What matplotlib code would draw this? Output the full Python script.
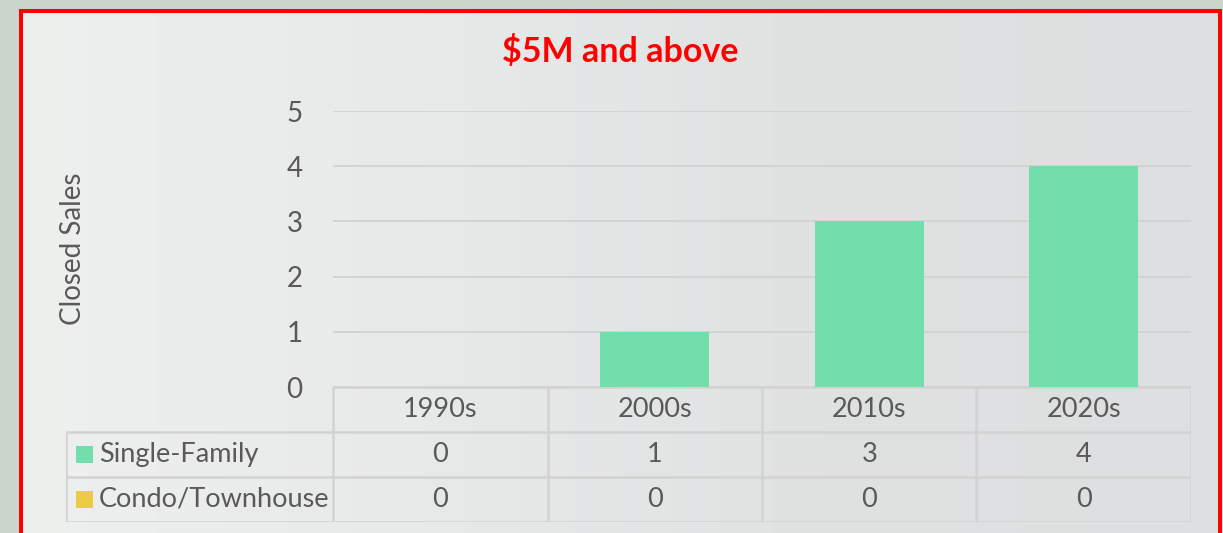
import numpy as np
import matplotlib
matplotlib.use('Agg')
import matplotlib.pyplot as plt
from matplotlib.colors import LinearSegmentedColormap
from matplotlib.patches import Rectangle

plt.rcParams['font.family'] = ['Lato', 'DejaVu Sans']

# ---- data ----
decades = ['1990s', '2000s', '2010s', '2020s']
single_family = [0, 1, 3, 4]
condo_townhouse = [0, 0, 0, 0]
series_names = ['Single-Family', 'Condo/Townhouse']
title = '$5M and above'
y_label = 'Closed Sales'

C_SF = '#71DEAC'
C_CONDO = '#EDCB45'
C_TXT = '#595959'
C_GRID = '#D2D2D2'
C_RED = '#FF0000'
FS = 19.5

W, H = 1223, 533
fig = plt.figure(figsize=(W / 100, H / 100), dpi=100)
fig.patch.set_facecolor('#CAD6CC')


def fx(px):
    return px / W


def fy(py):
    return 1 - py / H


# background wash inside the frame
bg = fig.add_axes([fx(20), 0, 1 - fx(20), fy(10)], zorder=-5)
cmap = LinearSegmentedColormap.from_list('wash', ['#EEF0EE', '#E6EAE9', '#E0E2E2', '#DEDFE0'])
grad = np.linspace(0, 1, 256)[None, :] * np.ones((20, 1))
bg.imshow(grad, cmap=cmap, aspect='auto', extent=[0, 1, 0, 1])
bg.set_axis_off()

# red frame
fig.patches.append(Rectangle((fx(21), -0.05), fx(1220) - fx(21), fy(11) + 0.05,
                             transform=fig.transFigure, fill=False,
                             edgecolor=C_RED, linewidth=2.9, zorder=10))

fig.text(fx(620), fy(52), title, ha='center', va='center', color=C_RED,
         fontsize=24.5, fontweight='bold')

# main bar axes
ax = fig.add_axes([fx(333), fy(387), fx(1191) - fx(333), fy(111) - fy(387)])
ax.set_facecolor('none')
x = np.arange(len(decades))
ax.bar(x, single_family, width=0.51, color=C_SF, zorder=3)
ax.bar(x, condo_townhouse, width=0.51, bottom=single_family, color=C_CONDO, zorder=3)
ax.set_xlim(-0.5, len(decades) - 0.5)
ax.set_ylim(0, 5)
ax.set_yticks(range(6))
ax.tick_params(axis='y', length=0, pad=22, labelsize=FS + 0.5, labelcolor=C_TXT)
ax.set_xticks([])
ax.yaxis.grid(True, color=C_GRID, linewidth=1.3, zorder=0)
for s in ax.spines.values():
    s.set_visible(False)
ax.text(-0.5 - 1.21, 2.5, y_label, rotation=90, ha='center', va='center',
        fontsize=FS + 0.5, color=C_TXT)

# data table below
left_col = -0.5 - (333 - 66) / ((1191 - 333) / 4)
tab = fig.add_axes([fx(66), fy(522), fx(1191) - fx(66), fy(387) - fy(522)])
tab.set_xlim(left_col, len(decades) - 0.5)
tab.set_ylim(3, 0)
tab.set_axis_off()
tab.set_facecolor('none')
lk = dict(color=C_GRID, linewidth=1.8, solid_capstyle='butt')
tab.plot([-0.5, len(decades) - 0.5], [0, 0], **lk)
for r in (1, 2, 3):
    tab.plot([left_col, len(decades) - 0.5], [r, r], **lk)
tab.plot([left_col, left_col], [1, 3], **lk)
for c in range(len(decades) + 1):
    tab.plot([c - 0.5, c - 0.5], [0, 3], **lk)

for i, d in enumerate(decades):
    tab.text(i, 0.5, d, ha='center', va='center', fontsize=FS, color=C_TXT)
rows = [single_family, condo_townhouse]
colors = [C_SF, C_CONDO]
for r, (name, vals, col) in enumerate(zip(series_names, rows, colors)):
    yc = r + 1.5
    tab.add_patch(Rectangle((left_col + 0.046, yc - 0.19), 0.078, 0.38,
                            facecolor=col, edgecolor='none'))
    tab.text(left_col + 0.152, yc, name, ha='left', va='center',
             fontsize=FS, color=C_TXT)
    for i, v in enumerate(vals):
        tab.text(i, yc, str(v), ha='center', va='center', fontsize=FS, color=C_TXT)

fig.savefig('out.png', dpi=100, facecolor=fig.get_facecolor())
